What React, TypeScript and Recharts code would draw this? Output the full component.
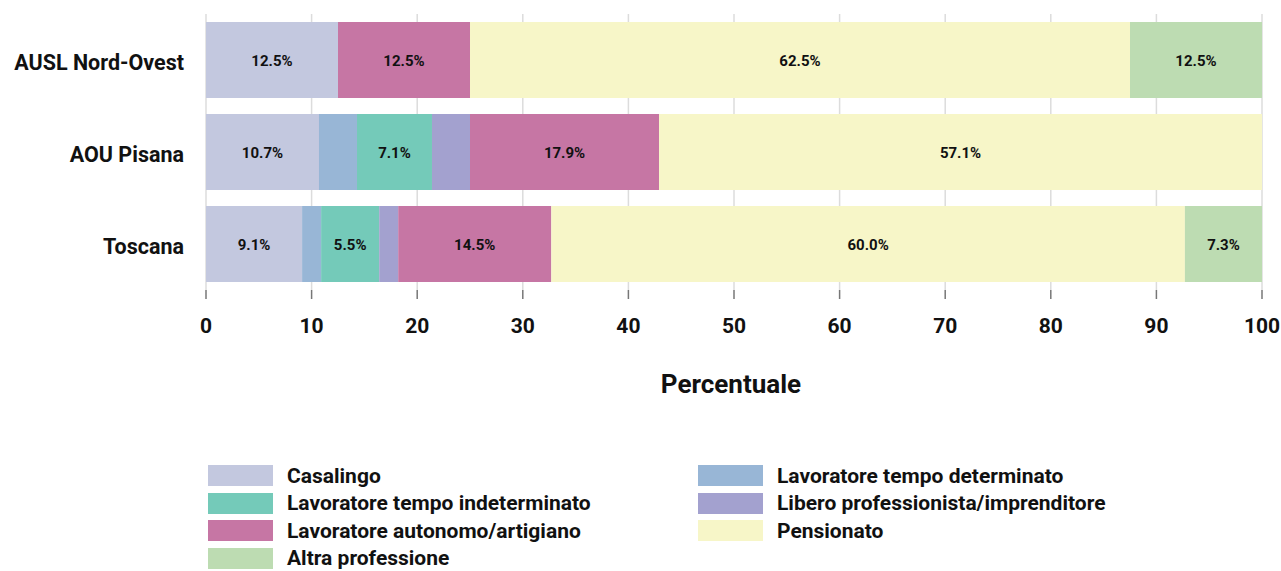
import React from "react";
import { BarChart, Bar, XAxis, YAxis, CartesianGrid, LabelList } from "recharts";

// categorie (dall'alto verso il basso)
const categories = ["AUSL Nord-Ovest", "AOU Pisana", "Toscana"];

// valori percentuali per professione
const casalingo = [12.5, 10.7, 9.1];
const tempoDeterminato = [0, 3.6, 1.8];
const tempoIndeterminato = [0, 7.1, 5.5];
const liberoProfessionista = [0, 3.6, 1.8];
const autonomo = [12.5, 17.9, 14.5];
const pensionato = [62.5, 57.1, 60.0];
const altraProfessione = [12.5, 0, 7.3];

const xTicks = [0, 10, 20, 30, 40, 50, 60, 70, 80, 90, 100];

const series = [
  { key: "casalingo", name: "Casalingo", values: casalingo, color: "#c3c8df" },
  { key: "determinato", name: "Lavoratore tempo determinato", values: tempoDeterminato, color: "#98b6d6" },
  { key: "indeterminato", name: "Lavoratore tempo indeterminato", values: tempoIndeterminato, color: "#74cab9" },
  { key: "libero", name: "Libero professionista/imprenditore", values: liberoProfessionista, color: "#a3a1cf" },
  { key: "autonomo", name: "Lavoratore autonomo/artigiano", values: autonomo, color: "#c676a4" },
  { key: "pensionato", name: "Pensionato", values: pensionato, color: "#f7f6c8" },
  { key: "altra", name: "Altra professione", values: altraProfessione, color: "#bddcb2" },
];

const data = categories.map((c, i) => {
  const row: Record<string, any> = { name: c };
  series.forEach((s) => (row[s.key] = s.values[i]));
  return row;
});

const FONT = "Roboto, 'DejaVu Sans', sans-serif";

const fmt = (v: any) => (typeof v === "number" && v >= 5 ? `${v.toFixed(1)}%` : "");

function AxisTitle(props: any) {
  const { viewBox } = props;
  return (
    <text
      x={viewBox.x + viewBox.width / 2 - 3}
      y={393}
      textAnchor="middle"
      fontFamily={FONT}
      fontWeight={700}
      fontSize={26}
      fill="#111"
    >
      Percentuale
    </text>
  );
}

export default function App() {
  return (
    <div style={{ position: "fixed", left: 0, top: 0, width: 1281, height: 571, background: "#fff", fontFamily: FONT }}>
      <BarChart
        width={1281}
        height={571}
        data={data}
        layout="vertical"
        margin={{ top: 14, right: 19, left: 0, bottom: 221 }}
        barCategoryGap={8}
      >
        <CartesianGrid horizontal={false} vertical={true} stroke="#dcdcdc" strokeWidth={1.5} />
        <XAxis
          type="number"
          domain={[0, 100]}
          ticks={xTicks}
          height={60}
          axisLine={false}
          tickSize={9}
          tickMargin={19}
          tickLine={{ stroke: "#777", strokeWidth: 1.5 }}
          tick={{ fill: "#111", fontSize: 21, fontWeight: 700, fontFamily: FONT }}
          label={<AxisTitle />}
        />
        <YAxis
          type="category"
          dataKey="name"
          width={206}
          axisLine={false}
          tickLine={false}
          tickSize={0}
          tickMargin={22}
          tick={{ fill: "#111", fontSize: 21.5, fontWeight: 700, fontFamily: FONT, dy: 2 }}
        />
        {series.map((s) => (
          <Bar key={s.key} dataKey={s.key} name={s.name} stackId="a" fill={s.color} isAnimationActive={false}>
            <LabelList
              dataKey={s.key}
              position="center"
              formatter={fmt}
              style={{ fill: "#111", fontSize: 15, fontWeight: 700, fontFamily: FONT }}
              dy={1}
            />
          </Bar>
        ))}
      </BarChart>

      {/* legenda a due colonne */}
      {series.map((s, i) => {
        const col = i % 2;
        const row = Math.floor(i / 2);
        return (
          <div
            key={s.key}
            style={{
              position: "absolute",
              left: col === 0 ? 208 : 698,
              top: 465 + row * 27.5,
              display: "flex",
              alignItems: "center",
              height: 21,
            }}
          >
            <div style={{ width: 65, height: 21, background: s.color }} />
            <span style={{ marginLeft: 14, fontSize: 21, fontWeight: 700, color: "#111", whiteSpace: "nowrap", marginTop: 1, lineHeight: "21px" }}>
              {s.name}
            </span>
          </div>
        );
      })}
    </div>
  );
}
